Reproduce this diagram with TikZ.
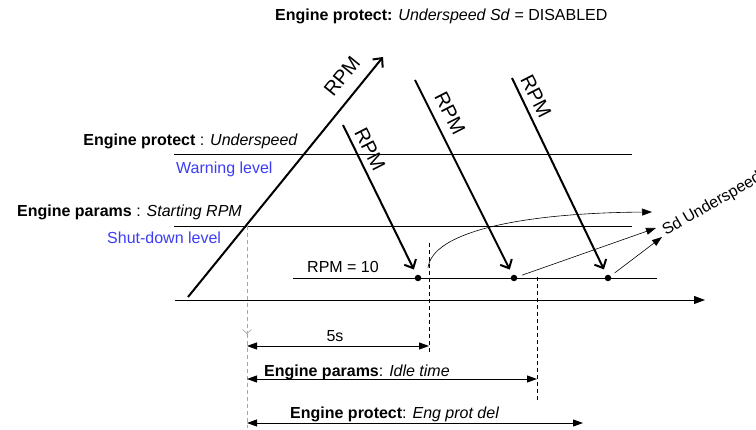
\documentclass[tikz,border=0pt]{standalone}
\usepackage{fontspec}
\setmainfont{Liberation Sans}
\usepackage{xcolor}
\usetikzlibrary{arrows.meta}

\definecolor{lvlblue}{RGB}{60,60,245}

\begin{document}
\begin{tikzpicture}[x=1pt, y=-1pt,
  txt/.style    = {font=\fontsize{16}{19}\selectfont, inner sep=0pt},
  lvl/.style    = {txt, text=lvlblue},
  rpmlbl/.style = {font=\fontsize{20}{24}\selectfont, inner sep=0pt},
  rpm/.style    = {-{Straight Barb[length=7pt,width=13pt]}, line width=2pt},
  lvlline/.style = {line width=0.9pt},
  thin/.style   = {-{Triangle[length=10pt,width=7pt]}, line width=0.6pt},
  dim/.style    = {{Triangle[length=10pt,width=7pt]}-{Triangle[length=10pt,width=7pt]},
                   line width=0.9pt},
  guide/.style  = {dashed, dash pattern=on 4pt off 3pt, line width=0.7pt},
  dot/.style    = {circle, fill, inner sep=0pt, minimum size=6.5pt},
]
\useasboundingbox (0,0) rectangle (756,430);

%% -- Title ------------------------------------------------------------------
\node[txt, anchor=base west] (title) at (275,21)
  {\textbf{Engine protect:} \textit{Underspeed Sd} = DISABLED};

%% -- Levels and axis --------------------------------------------------------
\coordinate (wl0) at (174,154); \coordinate (wl1) at (632,154);
\coordinate (sl0) at (174,226); \coordinate (sl1) at (632,226);
\coordinate (rl0) at (293,278); \coordinate (rl1) at (657,278);
\coordinate (ax0) at (175,300); \coordinate (ax1) at (705,300);
\draw[lvlline] (wl0) -- (wl1);
\draw[lvlline] (sl0) -- (sl1);
\draw[lvlline] (rl0) -- (rl1);
\draw[lvlline, -{Triangle[length=11pt,width=8pt]}] (ax0) -- (ax1);

\node[txt, anchor=base east] (wlt) at (298,146)
  {\textbf{Engine protect} : \textit{Underspeed}};
\node[lvl, anchor=base west] (wlb) at (176,174) {Warning level};
\node[txt, anchor=base east] (slt) at (242,217)
  {\textbf{Engine params} : \textit{Starting RPM}};
\node[lvl, anchor=base west] (slb) at (107,244) {Shut-down level};
\node[txt, anchor=base west] (rlt) at (307,273) {RPM = 10};

%% -- Rising RPM -------------------------------------------------------------
\coordinate (up0) at (188,297); \coordinate (up1) at (383,57);
\draw[rpm] (up0) -- (up1);
\node[rpmlbl, rotate=51] (r0) at (342,76) {RPM};

%% -- Falling RPM ------------------------------------------------------------
\node[dot] (d1) at (418,278) {};
\node[dot] (d2) at (514,278) {};
\node[dot] (d3) at (608,278) {};
\coordinate (s1) at (343,125);
\coordinate (s2) at (415,80);
\coordinate (s3) at (512,78);
\draw[rpm, shorten >=6pt] (s1) -- (d1);
\draw[rpm, shorten >=6pt] (s2) -- (d2);
\draw[rpm, shorten >=6pt] (s3) -- (d3);
\node[rpmlbl, rotate=-63] (r1) at (370,149) {RPM};
\node[rpmlbl, rotate=-63] (r2) at (450,113) {RPM};
\node[rpmlbl, rotate=-63] (r3) at (536,96) {RPM};

%% -- Shut-down arrows -------------------------------------------------------
\coordinate (c0) at (428,268);
\coordinate (e1) at (652,212);
\coordinate (e2) at (656,228);
\coordinate (e3) at (662,237);
\draw[thin] (c0) .. controls (432,232) and (520,213) .. (e1);
\draw[thin, shorten <=5pt] (d2) -- (e2);
\draw[thin, shorten <=5pt] (d3) -- (e3);
\node[txt, rotate=30, anchor=base west] (sdu) at (666,236) {Sd Underspeed};

%% -- Time marks -------------------------------------------------------------
\coordinate (x0) at (247,226);
\coordinate (xv) at (247,334);
\coordinate (xb) at (247,428);
\draw[guide, gray!70, -{Straight Barb[length=4pt,width=9pt]}] (x0) -- (xv);
\draw[guide, gray!70] (xv) -- (xb);
\coordinate (m1a) at (429,243); \coordinate (m1b) at (429,352);
\coordinate (m2a) at (537,277); \coordinate (m2b) at (537,400);
\draw[guide] (m1a) -- (m1b);
\draw[guide] (m2a) -- (m2b);

%% -- Durations --------------------------------------------------------------
\coordinate (t1a) at (247,346); \coordinate (t1b) at (429,346);
\coordinate (t2a) at (247,379); \coordinate (t2b) at (537,379);
\coordinate (t3a) at (247,423); \coordinate (t3b) at (583,423);
\draw[dim] (t1a) -- (t1b);
\draw[dim] (t2a) -- (t2b);
\draw[dim] (t3a) -- (t3b);
\node[txt, anchor=base] (t1l) at (335,342) {5s};
\node[txt, anchor=base west] (t2l) at (264,377)
  {\textbf{Engine params}: \textit{Idle time}};
\node[txt, anchor=base west] (t3l) at (290,419)
  {\textbf{Engine protect}: \textit{Eng prot del}};

\end{tikzpicture}
\end{document}
